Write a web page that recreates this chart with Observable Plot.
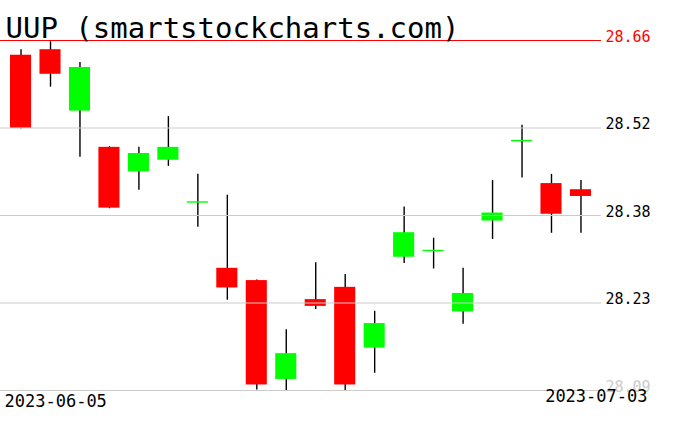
<!DOCTYPE html>
<html>
<head>
<meta charset="utf-8">
<script src="https://cdn.jsdelivr.net/npm/d3@7"></script>
<script src="https://cdn.jsdelivr.net/npm/@observablehq/plot@0.6"></script>
<style>
  body { margin: 0; background: #fff; }
</style>
</head>
<body>
<div id="chart"></div>
<script>
const symbol = 'UUP (smartstockcharts.com)'
const dates = [
  '2023-06-05', '2023-06-06', '2023-06-07', '2023-06-08', '2023-06-09',
  '2023-06-12', '2023-06-13', '2023-06-14', '2023-06-15', '2023-06-16',
  '2023-06-20', '2023-06-21', '2023-06-22', '2023-06-23', '2023-06-26',
  '2023-06-27', '2023-06-28', '2023-06-29', '2023-06-30', '2023-07-03',
]
const opens = [
  28.636, 28.645, 28.545, 28.486, 28.446, 28.465, 28.397, 28.289, 28.269, 28.108,
  28.238, 28.258, 28.159, 28.307, 28.318, 28.218, 28.366, 28.497, 28.427, 28.417,
]
const highs = [
  28.645, 28.658, 28.624, 28.487, 28.486, 28.536, 28.442, 28.408, 28.270, 28.189,
  28.298, 28.279, 28.219, 28.389, 28.338, 28.289, 28.432, 28.522, 28.442, 28.432,
]
const lows = [
  28.516, 28.584, 28.470, 28.386, 28.416, 28.455, 28.356, 28.237, 28.091, 28.090,
  28.222, 28.090, 28.118, 28.297, 28.288, 28.198, 28.336, 28.436, 28.346, 28.346,
]
const closes = [
  28.517, 28.605, 28.616, 28.387, 28.476, 28.486, 28.397, 28.257, 28.099, 28.150,
  28.227, 28.099, 28.199, 28.347, 28.318, 28.248, 28.379, 28.497, 28.377, 28.406,
]
const gridPrices = [28.09, 28.2325, 28.375, 28.5175, 28.66]
const gridLabels = ['28.09', '28.23', '28.38', '28.52', '28.66']
const gridColors = ['#cccccc', '#cccccc', '#cccccc', '#cccccc', '#ff0000']
const labelColors = ['#cccccc', '#000000', '#000000', '#000000', '#ff0000']

const candles = dates.map((d, i) => ({
  date: d, open: opens[i], high: highs[i], low: lows[i], close: closes[i],
  color: closes[i] >= opens[i] ? '#00ff00' : '#ff0000',
}))
const grid = gridPrices.map((p, i) => ({
  price: p, label: gridLabels[i], line: gridColors[i], ink: labelColors[i],
}))

const mono = 'DejaVu Sans Mono'
const inset = 4.2

let chart = Plot.plot({
  width: 676,
  height: 431,
  marginTop: 40,
  marginBottom: 41,
  marginLeft: 0,
  marginRight: 75,
  style: { fontFamily: mono, background: '#fff', overflow: 'visible' },
  x: { type: 'band', domain: dates, range: [5.8, 595.2], padding: 0, round: false, axis: null },
  y: { domain: [28.09, 28.66], axis: null },
  marks: [
    // wicks
    Plot.ruleX(candles, { x: 'date', y1: 'low', y2: 'high', stroke: '#000', strokeWidth: 1.4 }),
    // bodies
    Plot.barY(candles, {
      x: 'date', y1: 'open', y2: 'close', fill: 'color',
      insetLeft: inset, insetRight: inset,
    }),
    // doji bodies drawn as a flat line
    Plot.tickY(candles.filter(c => c.open === c.close), {
      x: 'date', y: 'close', stroke: 'color', strokeWidth: 1.4,
      insetLeft: inset, insetRight: inset,
    }),
    // price grid on top of the candles
    Plot.ruleY(grid, { y: 'price', stroke: 'line', strokeWidth: 1.2 }),
    Plot.text(grid, {
      y: 'price', text: 'label', fill: 'ink', frameAnchor: 'right',
      textAnchor: 'start', lineAnchor: 'bottom', dx: 4, dy: 1, fontSize: 15,
    }),
    Plot.text([symbol], {
      text: d => d, frameAnchor: 'top-left', textAnchor: 'start',
      lineAnchor: 'bottom', dx: 5, dy: -3, fontSize: 29, fill: '#000',
    }),
    Plot.text([dates[0]], {
      text: d => d, frameAnchor: 'bottom-left', textAnchor: 'start',
      lineAnchor: 'bottom', dx: 4, dy: 16, fontSize: 17, fill: '#000',
    }),
    Plot.text([dates[dates.length - 1]], {
      text: d => d, frameAnchor: 'bottom-right', textAnchor: 'end',
      lineAnchor: 'bottom', dx: 46, dy: 11, fontSize: 17, fill: '#000',
    }),
  ],
})
d3.select('#chart').append(() => chart)
</script>
</body>
</html>
